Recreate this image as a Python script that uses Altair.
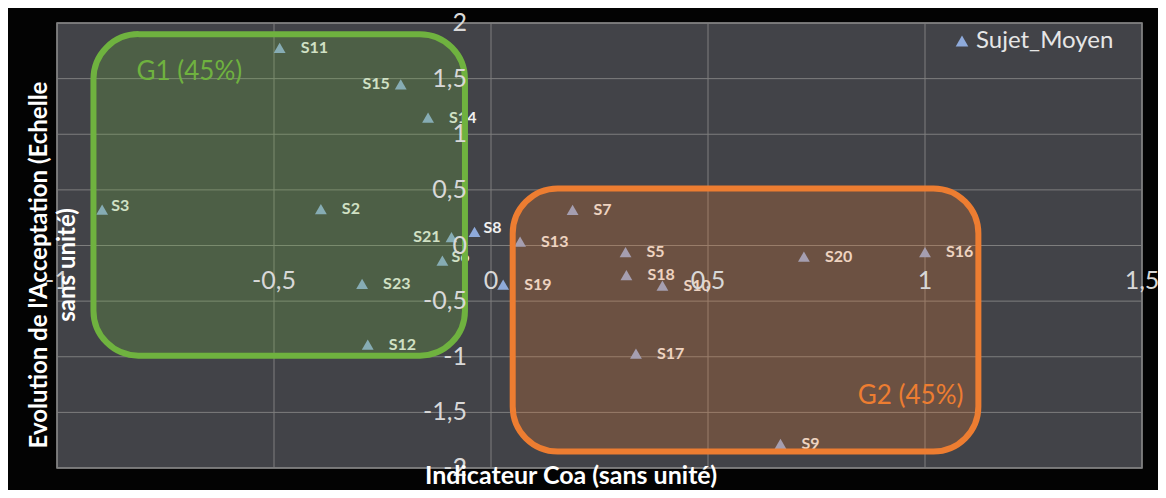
import altair as alt
import pandas as pd

# ---- data ----
subjects = ["S11", "S15", "S14", "S3", "S2", "S21", "S8", "S6", "S23", "S12",
            "S19", "S13", "S7", "S5", "S18", "S10", "S17", "S20", "S16", "S9"]
coa = [-0.487, -0.208, -0.145, -0.896, -0.392, -0.091, -0.038, -0.112, -0.297, -0.284,
       0.028, 0.067, 0.188, 0.310, 0.312, 0.395, 0.334, 0.721, 1.000, 0.667]
acceptation = [1.776, 1.448, 1.149, 0.322, 0.328, 0.075, 0.122, -0.137, -0.345, -0.890,
               -0.352, 0.035, 0.320, -0.060, -0.266, -0.360, -0.973, -0.100, -0.060, -1.784]
series_name = "Sujet_Moyen"

labels_left = ["S15", "S21"]
labels_near = ["S3", "S6", "S8"]

group_names = ["G1 (45%)", "G2 (45%)"]
group_x1 = [-0.916, 0.050]
group_x2 = [-0.060, 1.123]
group_y1 = [1.900, 0.513]
group_y2 = [-0.990, -1.852]
group_label_x = [-0.695, 0.967]
group_label_y = [1.560, -1.350]
group_colors = ["#6fb23f", "#ed7d31"]

x_ticks = [-1, -0.5, 0, 0.5, 1, 1.5]
y_ticks = [-2, -1.5, -1, -0.5, 0, 0.5, 1, 1.5, 2]
x_title = "Indicateur Coa (sans unité)"
y_title = ["Evolution de l'Acceptation (Echelle", "sans unité)"]

pts = pd.DataFrame({
    "subject": subjects,
    "coa": coa,
    "acc": acceptation,
    "series": [series_name] * len(subjects),
    "side": ["left" if s in labels_left else ("near" if s in labels_near else "right")
             for s in subjects],
})
groups = pd.DataFrame({
    "name": group_names, "x1": group_x1, "x2": group_x2,
    "y1": group_y1, "y2": group_y2,
    "lx": group_label_x, "ly": group_label_y, "color": group_colors,
})
xt = pd.DataFrame({"v": x_ticks})
yt = pd.DataFrame({"v": y_ticks})
one = pd.DataFrame({"k": [0]})

W, H = 1085, 445
xscale = alt.Scale(domain=[-1, 1.5], nice=False, zero=False)
yscale = alt.Scale(domain=[-2, 2], nice=False, zero=False)
comma = "replace(toString(datum.v), '.', ',')"

AXIS_FONT = dict(font="Lato", fontSize=25, color="#d8d8d8")
TITLE_FONT = dict(font="Lato", fontWeight="bold", color="#ffffff")

# grid lines
grid_x = alt.Chart(xt).mark_rule(color="#7e7e7e", strokeWidth=1).encode(
    x=alt.X("v:Q", scale=xscale, axis=None))
grid_y = alt.Chart(yt).mark_rule(color="#7e7e7e", strokeWidth=1).encode(
    y=alt.Y("v:Q", scale=yscale, axis=None))

base = alt.Chart(pts)
points = base.mark_point(shape="triangle-up", filled=True, size=140, opacity=1).encode(
    x=alt.X("coa:Q", scale=xscale, axis=None),
    y=alt.Y("acc:Q", scale=yscale, axis=None),
    color=alt.Color("series:N",
                    scale=alt.Scale(domain=[series_name], range=["#8eaadb"]),
                    legend=alt.Legend(title=None, orient="none", legendX=893, legendY=6,
                                      symbolType="triangle-up", symbolSize=160,
                                      labelFontSize=24, labelColor="#e6e6e6",
                                      labelFont="Lato", labelOffset=2, padding=0)),
)

txt_style = dict(font="Lato", fontSize=16, fontWeight="bold", color="#f0f0f0", baseline="middle")
enc_xy = dict(x=alt.X("coa:Q", scale=xscale, axis=None),
              y=alt.Y("acc:Q", scale=yscale, axis=None), text="subject:N")
lab_right = base.transform_filter("datum.side == 'right'").mark_text(
    align="left", dx=21, **txt_style).encode(**enc_xy)
lab_left = base.transform_filter("datum.side == 'left'").mark_text(
    align="right", dx=-11, **txt_style).encode(**enc_xy)
lab_near = base.transform_filter("datum.side == 'near'").mark_text(
    align="left", dx=9, dy=-4, **txt_style).encode(**enc_xy)

boxes = alt.Chart(groups).mark_rect(cornerRadius=45, strokeWidth=6, fillOpacity=0.25).encode(
    x=alt.X("x1:Q", scale=xscale, axis=None), x2="x2:Q",
    y=alt.Y("y1:Q", scale=yscale, axis=None), y2="y2:Q",
    stroke=alt.Stroke("color:N", scale=None),
    fill=alt.Fill("color:N", scale=None),
)
group_text = alt.Chart(groups).mark_text(font="Lato", fontSize=26, baseline="middle",
                                         align="center").encode(
    x=alt.X("lx:Q", scale=xscale, axis=None),
    y=alt.Y("ly:Q", scale=yscale, axis=None),
    text="name:N",
    fill=alt.Fill("color:N", scale=None),
)

# axis tick labels, placed at the axes crossing (0, 0)
x_labels = alt.Chart(xt).transform_calculate(lab=comma).mark_text(
    align="center", baseline="middle", dy=35, **AXIS_FONT).encode(
    x=alt.X("v:Q", scale=xscale, axis=None),
    y=alt.Y(datum=0, scale=yscale, axis=None),
    text="lab:N")
y_labels = alt.Chart(yt).transform_calculate(lab=comma).mark_text(
    align="right", baseline="middle", dx=-24, **AXIS_FONT).encode(
    x=alt.X(datum=0, scale=xscale, axis=None),
    y=alt.Y("v:Q", scale=yscale, axis=None),
    text="lab:N")

# axis titles
x_title_mark = alt.Chart(one).mark_text(
    text=x_title, align="center", baseline="middle", fontSize=25, **TITLE_FONT).encode(
    x=alt.value(514), y=alt.value(453))
y_title_mark = alt.Chart(one).mark_text(
    text=y_title, align="center", baseline="middle", angle=270, lineHeight=28,
    fontSize=24, **TITLE_FONT).encode(x=alt.value(-17), y=alt.value(242))

chart = alt.layer(grid_x, grid_y, points, lab_right, lab_left, lab_near, boxes, group_text,
                  x_labels, y_labels, x_title_mark, y_title_mark).properties(
    width=W, height=H,
    autosize=alt.AutoSizeParams(type="none"),
    padding={"left": 49, "top": 15, "right": 16, "bottom": 22},
    background="#030303",
).configure_view(
    fill="#424348", stroke="#8a8a8a", strokeWidth=1.5,
)

chart.save("out.html", embed_options={"renderer": "svg", "actions": False})
